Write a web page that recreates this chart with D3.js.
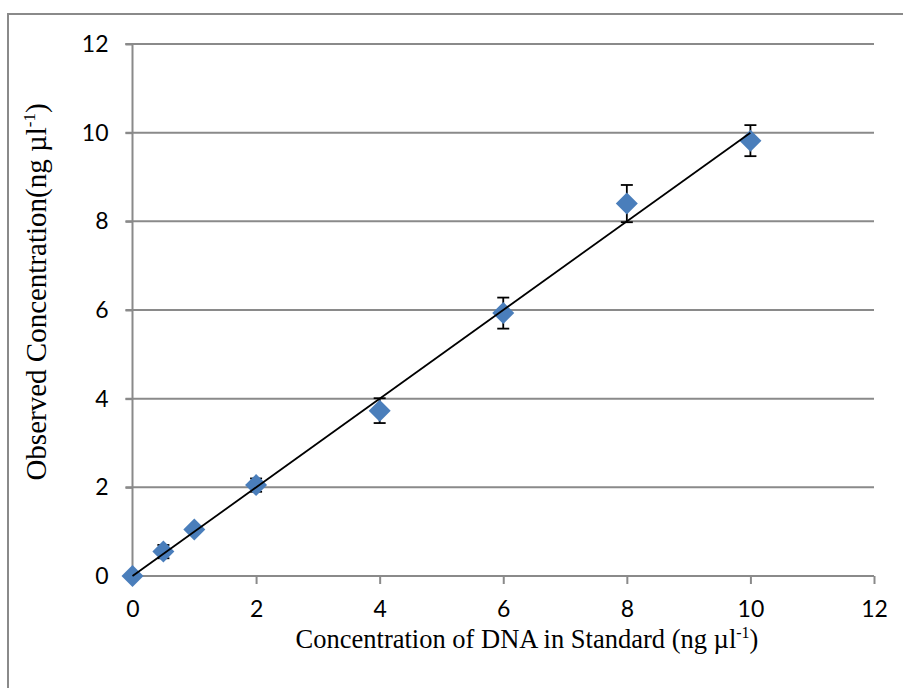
<!DOCTYPE html>
<html><head><meta charset="utf-8">
<script src="https://cdn.jsdelivr.net/npm/d3@7"></script>
<style>html,body{margin:0;padding:0;background:#fff;}svg{display:block;}</style>
</head><body>
<svg id="chart" width="903" height="688"></svg>
<script>
const standard = [0, 0.5, 1, 2, 4, 6, 8, 10];
const observed = [0, 0.55, 1.05, 2.05, 3.73, 5.93, 8.4, 9.82];
const errors   = [0, 0.15, 0.08, 0.15, 0.28, 0.35, 0.42, 0.35];
const trendX = [0, 10];
const trendY = [0, 10];
const xTicks = [0, 2, 4, 6, 8, 10, 12];
const yTicks = [0, 2, 4, 6, 8, 10, 12];

const svg = d3.select("#chart");
const L = 132.5, R = 874, T = 44, B = 576;
const x = d3.scaleLinear().domain([0, 12]).range([L, R]);
const y = d3.scaleLinear().domain([0, 12]).range([B, T]);
const grey = "#8a8a8a";

// outer frame
svg.append("path").attr("d", `M8,700 L8,14 L910,14`).attr("fill","none").attr("stroke",grey).attr("stroke-width",2);

// horizontal gridlines
svg.append("g").selectAll("line").data(yTicks.filter(d=>d>0)).join("line")
  .attr("x1", L-7).attr("x2", R).attr("y1", d=>y(d)).attr("y2", d=>y(d))
  .attr("stroke", grey).attr("stroke-width", 2);

// y axis
const ya = svg.append("g").attr("transform",`translate(${L},0)`)
  .call(d3.axisLeft(y).tickValues(yTicks).tickSize(7).tickPadding(17).tickFormat(d3.format("d")));
ya.select(".domain").attr("stroke", grey).attr("stroke-width",2).attr("d",`M-7,${T}H0V${B}`);
ya.selectAll(".tick line").attr("stroke", grey).attr("stroke-width",2);
ya.selectAll(".tick text").attr("font-family","Lato, 'Open Sans', sans-serif").attr("font-size",23).attr("fill","#000");

// x axis
const xa = svg.append("g").attr("transform",`translate(0,${B})`)
  .call(d3.axisBottom(x).tickValues(xTicks).tickSize(8).tickPadding(17).tickSizeOuter(0).tickFormat(d3.format("d")));
xa.select(".domain").attr("stroke", grey).attr("stroke-width",2).attr("d",`M${L-7},0H${R}`);
xa.selectAll(".tick line").attr("stroke", grey).attr("stroke-width",2);
xa.selectAll(".tick text").attr("font-family","Lato, 'Open Sans', sans-serif").attr("font-size",23).attr("fill","#000");

const pts = standard.map((s,i)=>({s, o:observed[i], e:errors[i]}));

// error bars (beneath markers)
const eb = svg.append("g").attr("stroke","#000").attr("stroke-width",1.8);
pts.filter(d=>d.e>0).forEach(d=>{
  const cx = x(d.s), y1 = y(d.o+d.e), y2 = y(d.o-d.e);
  eb.append("line").attr("x1",cx).attr("x2",cx).attr("y1",y1).attr("y2",y2);
  eb.append("line").attr("x1",cx-6).attr("x2",cx+6).attr("y1",y1).attr("y2",y1);
  eb.append("line").attr("x1",cx-6).attr("x2",cx+6).attr("y1",y2).attr("y2",y2);
});

// markers
svg.append("g").selectAll("path").data(pts).join("path")
  .attr("transform", d=>`translate(${x(d.s)},${y(d.o)})`)
  .attr("d", "M0,-11L11,0L0,11L-11,0Z")
  .attr("fill","#4a7ebb");

// trend line
svg.append("line")
  .attr("x1", x(trendX[0])).attr("y1", y(trendY[0]))
  .attr("x2", x(trendX[1])).attr("y2", y(trendY[1]))
  .attr("stroke","#000").attr("stroke-width",1.8);

// axis titles
const xt = svg.append("text").attr("x", 527).attr("y", 648)
  .attr("text-anchor","middle").attr("font-family","'Liberation Serif','Times New Roman',serif").attr("font-size",26.5).attr("fill","#000");
xt.append("tspan").text("Concentration of DNA in Standard (ng µl");
xt.append("tspan").attr("font-size",16).attr("dy",-10).text("-1");
xt.append("tspan").attr("dy",10).text(")");

const yt = svg.append("text").attr("transform","translate(46,292) rotate(-90)")
  .attr("text-anchor","middle").attr("font-family","'Liberation Serif','Times New Roman',serif").attr("font-size",29).attr("fill","#000");
yt.append("tspan").text("Observed Concentration(ng µl");
yt.append("tspan").attr("font-size",17).attr("dy",-11).text("-1");
yt.append("tspan").attr("dy",11).text(")");
</script>
</body></html>
